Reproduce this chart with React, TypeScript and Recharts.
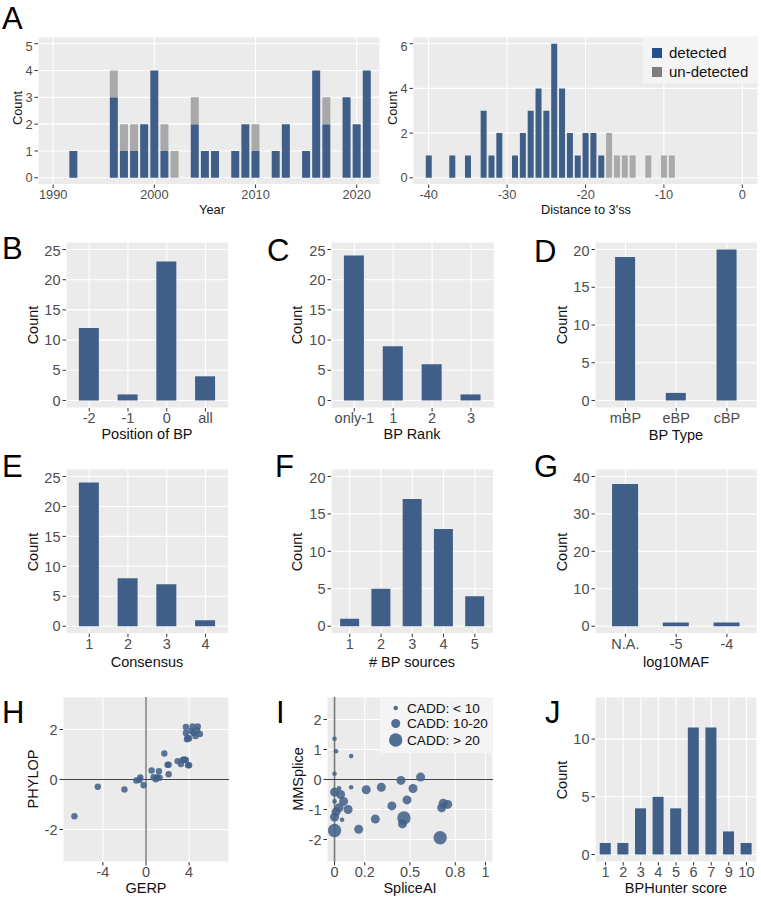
import React from 'react';
import { BarChart, Bar, XAxis, YAxis, CartesianGrid, ScatterChart, Scatter, ReferenceLine } from 'recharts';

const FONT = '"Liberation Sans", Arial, Helvetica, sans-serif';
const BLUE = '#3f5f88';
const GREY = '#a9a9a9';
const PANEL = '#ebebeb';
const TICK = '#4d4d4d';

// A (left) - year of report
const years = [1992, 1996, 1997, 1998, 1999, 2000, 2001, 2002, 2004, 2005, 2006, 2008, 2009, 2010, 2012, 2013, 2015, 2016, 2017, 2019, 2020, 2021];
const yearDetected = [1, 3, 1, 1, 2, 4, 1, 0, 2, 1, 1, 1, 2, 1, 1, 2, 1, 4, 2, 3, 2, 4];
const yearUndetected = [0, 1, 1, 1, 0, 0, 1, 1, 1, 0, 0, 0, 0, 1, 0, 0, 0, 0, 1, 0, 0, 0];

// A (right) - distance to 3'ss
const distances = [-40, -37, -35, -33, -32, -31, -29, -28, -27, -26, -25, -24, -23, -22, -21, -20, -19, -18, -17, -16, -15, -14, -12, -10, -9];
const distDetected = [1, 1, 1, 3, 1, 2, 1, 2, 3, 4, 3, 6, 4, 2, 1, 2, 2, 1, 0, 0, 0, 0, 0, 0, 0];
const distUndetected = [0, 0, 0, 0, 0, 0, 0, 0, 0, 0, 0, 0, 0, 0, 0, 0, 0, 0, 2, 1, 1, 1, 1, 1, 1];

const bpPositions = ['-2', '-1', '0', 'all'];
const bpPositionCounts = [12, 1, 23, 4];
const bpRanks = ['only-1', '1', '2', '3'];
const bpRankCounts = [24, 9, 6, 1];
const bpTypes = ['mBP', 'eBP', 'cBP'];
const bpTypeCounts = [19, 1, 20];
const consensus = ['1', '2', '3', '4'];
const consensusCounts = [24, 8, 7, 1];
const bpSources = ['1', '2', '3', '4', '5'];
const bpSourceCounts = [1, 5, 17, 13, 4];
const mafBins = ['N.A.', '-5', '-4'];
const mafCounts = [38, 1, 1];
const hunterScores = ['1', '2', '3', '4', '5', '6', '7', '9', '10'];
const hunterCounts = [1, 1, 4, 5, 4, 11, 11, 2, 1];

// H - conservation
const gerp = [-6.64, -4.47, -2.0, -0.9, -0.53, -0.6, -0.22, 0.52, 0.7, 0.9, 1.05, 1.2, 1.26, 1.7, 2.0, 2.1, 2.1, 2.93, 3.24, 3.4, 3.55, 3.7, 3.9, 4.0, 3.7, 3.7, 3.8, 3.86, 4.0, 4.32, 4.4, 4.6, 4.75, 4.8, 5.0, 4.2];
const phylop = [-1.47, -0.29, -0.4, -0.04, 0.08, -0.02, -0.23, 0.36, 0.09, 0.01, 0.09, 0.33, 0.07, 1.04, 0.59, 0.59, 0.21, 0.73, 0.62, 0.78, 0.8, 0.78, 0.57, 0.57, 2.1, 1.86, 1.61, 1.67, 1.64, 2.12, 1.86, 1.74, 1.97, 2.12, 1.82, 1.95];

// I - splicing predictors, cadd group 1: <10, 2: 10-20, 3: >20
const spliceAI = [0.0, 0.01, 0.11, 0.0, 0.11, 0.03, 0.0, 0.04, 0.0, 0.06, 0.03, 0.09, 0.01, 0.0, 0.05, 0.0, 0.21, 0.31, 0.44, 0.57, 0.52, 0.48, 0.38, 0.27, 0.16, 0.46, 0.45, 0.7, 0.71, 0.72, 0.75];
const mmSplice = [1.36, 0.94, 0.78, 0.19, -0.26, -0.29, -0.42, -0.5, -0.73, -0.73, -0.94, -1.0, -1.08, -1.25, -1.34, -1.7, -0.34, -0.26, -0.03, 0.08, -0.3, -0.68, -0.88, -1.32, -1.66, -1.28, -1.48, -1.94, -0.94, -0.79, -0.83];
const caddGroup = [1, 1, 1, 1, 1, 1, 2, 2, 1, 2, 2, 2, 2, 2, 1, 3, 2, 2, 2, 2, 2, 2, 2, 2, 2, 3, 2, 3, 2, 2, 2];
const caddLabels = ['CADD: < 10', 'CADD: 10-20', 'CADD: > 20'];
const caddRadius = [2.3, 4.5, 6.7];

type Rect = { x0: number; y0: number; x1: number; y1: number };
const YW = 40;
const XH = 30;
const FS = 14.5; // tick labels, rows B-J
const FS_A = 12.8; // tick labels, row A

const frame = (r: Rect) => ({
  left: r.x0 - YW,
  top: r.y0,
  width: r.x1 - r.x0 + YW,
  height: r.y1 - r.y0 + XH,
});

// custom tick text so the font size sticks
const xTick = (fs: number) => (p: any) => (
  <text x={p.x} y={p.y} dy={0.72 * fs} textAnchor="middle" fontSize={fs} fontFamily={FONT} fill={TICK}>
    {p.payload.value}
  </text>
);
const yTick = (fs: number) => (p: any) => (
  <text x={p.x} y={p.y} dy={0.36 * fs} textAnchor="end" fontSize={fs} fontFamily={FONT} fill={TICK}>
    {p.payload.value}
  </text>
);

const axisX = (fs: number) => ({ tickSize: 3.5, tickMargin: 1.5, axisLine: false, tickLine: { stroke: '#333' }, tick: xTick(fs) });
const axisY = (fs: number) => ({ tickSize: 3.5, tickMargin: 2, axisLine: false, tickLine: { stroke: '#333' }, tick: yTick(fs) });

const M = { top: 0, right: 0, bottom: 0, left: 0 };

function CountPanel({ rect, cats, counts, domain, ticks, barSize }: any) {
  const data = cats.map((c: string, i: number) => ({ cat: c, count: counts[i] }));
  const f = frame(rect);
  const pad = (0.1 * (rect.x1 - rect.x0)) / (cats.length + 0.2);
  return (
    <div style={{ position: 'absolute', left: f.left, top: f.top }}>
      <BarChart width={f.width} height={f.height} data={data} margin={M}>
        <CartesianGrid fill={PANEL} fillOpacity={1} stroke="#fff" strokeWidth={1.1} />
        <XAxis dataKey="cat" type="category" height={XH} interval={0} padding={{ left: pad, right: pad }} {...axisX(FS)} />
        <YAxis type="number" width={YW} domain={domain} ticks={ticks} allowDataOverflow {...axisY(FS)} />
        <Bar dataKey="count" fill={BLUE} barSize={barSize} isAnimationActive={false} />
      </BarChart>
    </div>
  );
}

function StackPanel({ rect, xs, det, und, xDomain, xTicks, yDomain, yTicks, barSize }: any) {
  const data = xs.map((x: number, i: number) => ({ x, det: det[i], und: und[i] }));
  const f = frame(rect);
  return (
    <div style={{ position: 'absolute', left: f.left, top: f.top }}>
      <BarChart width={f.width} height={f.height} data={data} margin={M}>
        <CartesianGrid fill={PANEL} fillOpacity={1} stroke="#fff" strokeWidth={1.1} />
        <XAxis dataKey="x" type="number" height={XH} domain={xDomain} ticks={xTicks} allowDataOverflow {...axisX(FS_A)} />
        <YAxis type="number" width={YW} domain={yDomain} ticks={yTicks} allowDataOverflow {...axisY(FS_A)} />
        <Bar dataKey="det" stackId="s" fill={BLUE} barSize={barSize} isAnimationActive={false} />
        <Bar dataKey="und" stackId="s" fill={GREY} barSize={barSize} isAnimationActive={false} />
      </BarChart>
    </div>
  );
}

const dot = (r: number) => (p: any) => (
  <circle cx={p.cx} cy={p.cy} r={r} fill={BLUE} fillOpacity={0.85} />
);

function ScatterPanel({ rect, series, xDomain, xTicks, yDomain, yTicks, vStroke = '#444', vWidth = 1 }: any) {
  const f = frame(rect);
  return (
    <div style={{ position: 'absolute', left: f.left, top: f.top }}>
      <ScatterChart width={f.width} height={f.height} margin={M}>
        <CartesianGrid fill={PANEL} fillOpacity={1} stroke="#fff" strokeWidth={1.1} />
        <XAxis dataKey="x" type="number" height={XH} domain={xDomain} ticks={xTicks} allowDataOverflow {...axisX(FS)} />
        <YAxis dataKey="y" type="number" width={YW} domain={yDomain} ticks={yTicks} allowDataOverflow {...axisY(FS)} />
        <ReferenceLine x={0} stroke={vStroke} strokeWidth={vWidth} />
        <ReferenceLine y={0} stroke="#444" strokeWidth={1} />
        {series.map((s: any, i: number) => (
          <Scatter key={i} data={s.data} shape={dot(s.r)} isAnimationActive={false} />
        ))}
      </ScatterChart>
    </div>
  );
}

const letters: [string, number, number][] = [
  ['A', 2, 7], ['B', 2, 237], ['C', 267, 239], ['D', 534, 240],
  ['E', 2, 455], ['F', 275, 455], ['G', 534, 455],
  ['H', 2, 701], ['I', 276, 701], ['J', 545, 701],
];

// [text, cx, cy, rotated, fontSize]
const titles: [string, number, number, boolean, number][] = [
  ['Count', 17, 108, true, 12.8], ['Year', 212, 209, false, 12.8],
  ['Count', 392, 108, true, 12.8], ["Distance to 3'ss", 586, 209, false, 12.8],
  ['Count', 33, 325, true, 14.5], ['Position of BP', 147, 434, false, 14.5],
  ['Count', 297, 325, true, 14.5], ['BP Rank', 412, 434, false, 14.5],
  ['Count', 562, 325, true, 14.5], ['BP Type', 676, 435, false, 14.5],
  ['Count', 33, 552, true, 14.5], ['Consensus', 147, 662, false, 14.5],
  ['Count', 297, 552, true, 14.5], ['# BP sources', 412, 662, false, 14.5],
  ['Count', 562, 552, true, 14.5], ['log10MAF', 676, 662, false, 14.5],
  ['PHYLOP', 33, 779, true, 14.5], ['GERP', 146, 888, false, 14.5],
  ['MMSplice', 298, 779, true, 14.5], ['SpliceAI', 410, 888, false, 14.5],
  ['Count', 562, 780, true, 14.5], ['BPHunter score', 676, 888, false, 14.5],
];

export default function App() {
  const hData = gerp.map((g, i) => ({ x: g, y: phylop[i] }));
  const iSeries = [1, 2, 3].map((g) => ({
    r: caddRadius[g - 1],
    data: spliceAI.map((s, i) => ({ x: s, y: mmSplice[i], g: caddGroup[i] })).filter((d) => d.g === g),
  }));

  return (
    <div style={{ position: 'absolute', left: 0, top: 0, width: 761, height: 900, background: '#fff', fontFamily: FONT }}>
      <StackPanel rect={{ x0: 38, y0: 36.5, x1: 380, y1: 184 }} xs={years} det={yearDetected} und={yearUndetected}
        xDomain={[1988.5, 2022.3]} xTicks={[1990, 2000, 2010, 2020]} yDomain={[-0.25, 5.25]} yTicks={[0, 1, 2, 3, 4, 5]} barSize={8} />
      <StackPanel rect={{ x0: 413, y0: 36.5, x1: 758, y1: 184 }} xs={distances} det={distDetected} und={distUndetected}
        xDomain={[-42, 2]} xTicks={[-40, -30, -20, -10, 0]} yDomain={[-0.3, 6.3]} yTicks={[0, 2, 4, 6]} barSize={6} />

      <CountPanel rect={{ x0: 66, y0: 241.7, x1: 228.7, y1: 407.7 }} cats={bpPositions} counts={bpPositionCounts}
        domain={[-1.25, 26.25]} ticks={[0, 5, 10, 15, 20, 25]} barSize={20} />
      <CountPanel rect={{ x0: 330.7, y0: 241.7, x1: 494, y1: 407.7 }} cats={bpRanks} counts={bpRankCounts}
        domain={[-1.25, 26.25]} ticks={[0, 5, 10, 15, 20, 25]} barSize={20} />
      <CountPanel rect={{ x0: 595.3, y0: 241.7, x1: 757.7, y1: 407.7 }} cats={bpTypes} counts={bpTypeCounts}
        domain={[-1, 21]} ticks={[0, 5, 10, 15, 20]} barSize={20} />

      <CountPanel rect={{ x0: 66, y0: 469.3, x1: 228.7, y1: 634 }} cats={consensus} counts={consensusCounts}
        domain={[-1.25, 26.25]} ticks={[0, 5, 10, 15, 20, 25]} barSize={20} />
      <CountPanel rect={{ x0: 330.7, y0: 469.3, x1: 493.3, y1: 634 }} cats={bpSources} counts={bpSourceCounts}
        domain={[-1, 21]} ticks={[0, 5, 10, 15, 20]} barSize={19} />
      <CountPanel rect={{ x0: 595.3, y0: 469.3, x1: 757.7, y1: 634 }} cats={mafBins} counts={mafCounts}
        domain={[-2, 42]} ticks={[0, 10, 20, 30, 40]} barSize={26} />

      <ScatterPanel rect={{ x0: 63, y0: 697, x1: 229, y1: 862 }} series={[{ r: 3.2, data: hData }]}
        xDomain={[-7.7, 7.7]} xTicks={[-4, 0, 4]} yDomain={[-3.3, 3.3]} yTicks={[-2, 0, 2]} />
      <ScatterPanel rect={{ x0: 327, y0: 697, x1: 493, y1: 862 }} series={iSeries} vStroke="#7a7a7a" vWidth={1.6}
        xDomain={[-0.05, 1.05]} xTicks={[0, 0.2, 0.5, 0.8, 1]} yDomain={[-2.75, 2.75]} yTicks={[-2, -1, 0, 1, 2]} />
      <CountPanel rect={{ x0: 595, y0: 697, x1: 757, y1: 862 }} cats={hunterScores} counts={hunterCounts}
        domain={[-0.65, 13.65]} ticks={[0, 5, 10]} barSize={11} />

      <svg width={761} height={900} style={{ position: 'absolute', left: 0, top: 0, pointerEvents: 'none' }}>
        {letters.map(([t, x, y]) => (
          <text key={t} x={x} y={y + 0.716 * 31} fontSize={31} fontFamily={FONT} fill="#000">{t}</text>
        ))}
        {titles.map(([t, cx, cy, rot, fs], i) => (
          <text key={i} x={cx} y={cy} fontSize={fs} fontFamily={FONT} fill="#111" textAnchor="middle"
            dy={0.36 * fs} transform={rot ? `rotate(-90 ${cx} ${cy})` : undefined}>{t}</text>
        ))}

        <rect x={643} y={36.5} width={115} height={47} fill="#f4f4f4" />
        <rect x={652} y={48} width={10} height={10} fill="#23508e" />
        <rect x={652} y={67} width={10} height={10} fill="#7f7f7f" />
        <text x={669} y={53 + 5.4} fontSize={15} fontFamily={FONT} fill="#111">detected</text>
        <text x={669} y={72 + 5.4} fontSize={15} fontFamily={FONT} fill="#111">un-detected</text>

        <rect x={380} y={698} width={113} height={55} fill="#f4f4f4" />
        {caddLabels.map((t, i) => {
          const cy = [708, 723.5, 740][i];
          return (
            <g key={t}>
              <circle cx={395.7} cy={cy} r={caddRadius[i]} fill={BLUE} fillOpacity={0.9} />
              <text x={407} y={cy + 4.9} fontSize={13.6} fontFamily={FONT} fill="#111">{t}</text>
            </g>
          );
        })}
      </svg>
    </div>
  );
}
